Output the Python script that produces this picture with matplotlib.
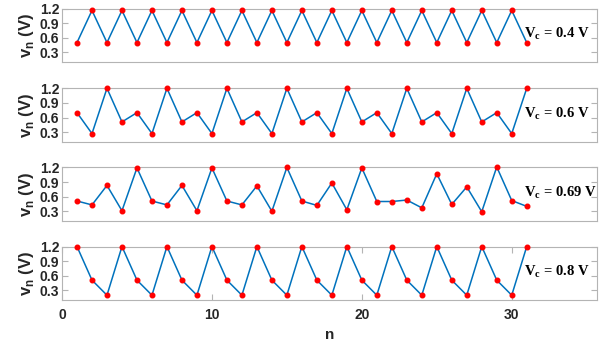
import numpy as np
import matplotlib
matplotlib.use("Agg")
import matplotlib.pyplot as plt

plt.rcParams['font.family'] = ['Liberation Sans', 'DejaVu Sans']
plt.rcParams['font.weight'] = 'bold'
plt.rcParams['mathtext.fontset'] = 'custom'
plt.rcParams['mathtext.rm'] = 'Liberation Serif:bold'
plt.rcParams['mathtext.sf'] = 'Liberation Sans:bold'

# data
n = np.arange(1, 32)
v_04 = [0.5, 1.16] * 15 + [0.5]
v_06 = [0.70, 0.27, 1.20, 0.51] * 7 + [0.70, 0.27, 1.20]
v_069 = [0.51, 0.43, 0.83, 0.31, 1.19, 0.51, 0.43, 0.83, 0.31, 1.19,
         0.51, 0.43, 0.82, 0.30, 1.20, 0.51, 0.42, 0.88, 0.33, 1.19,
         0.50, 0.50, 0.53, 0.37, 1.07, 0.44, 0.80, 0.29, 1.21, 0.52, 0.40]
v_08 = [1.2, 0.51, 0.2] * 10 + [1.2]
series = [v_04, v_06, v_069, v_08]
labels = ['0.4', '0.6', '0.69', '0.8']

fig = plt.figure(figsize=(6.02, 3.41), dpi=100)
bottoms = [0.818, 0.584, 0.352, 0.120]
edge = '#b4b4b4'
txt = '#262626'

for k in range(4):
    ax = fig.add_axes([0.103, bottoms[k], 0.889, 0.157])
    ax.plot(n, series[k], color='#0072BD', lw=1.1, marker='o', ms=3.3,
            mfc='red', mec='red', clip_on=False, zorder=5)
    ax.set_xlim(0, 35.7)
    ax.set_ylim(0.1, 1.2)
    ax.set_yticks([0.3, 0.6, 0.9, 1.2])
    ax.set_yticklabels(['0.3', '0.6', '0.9', '1.2'])
    for s in ax.spines.values():
        s.set_color(edge)
        s.set_linewidth(0.8)
    ax.tick_params(direction='in', length=4, width=0.8, color=edge,
                   labelcolor=txt, labelsize=10, right=True, pad=2)
    if k < 3:
        ax.set_xticks([])
    else:
        ax.set_xticks([0, 10, 20, 30])
        ax.tick_params(axis='x', top=True, pad=6)
        ax.set_xlabel('n', fontsize=11, color=txt, fontweight='bold', labelpad=4)
    ax.set_ylabel(r'$\mathsf{v}_\mathsf{n}$ (V)', fontsize=12, color=txt,
                  fontweight='bold', labelpad=3)
    ax.text(30.8, 0.6, r'$\mathrm{V}_\mathrm{c}$ = ' + labels[k] + ' V',
            family='Liberation Serif', fontweight='bold', fontsize=10.5,
            color='black', va='baseline', ha='left')

fig.savefig('out.png', dpi=100)
